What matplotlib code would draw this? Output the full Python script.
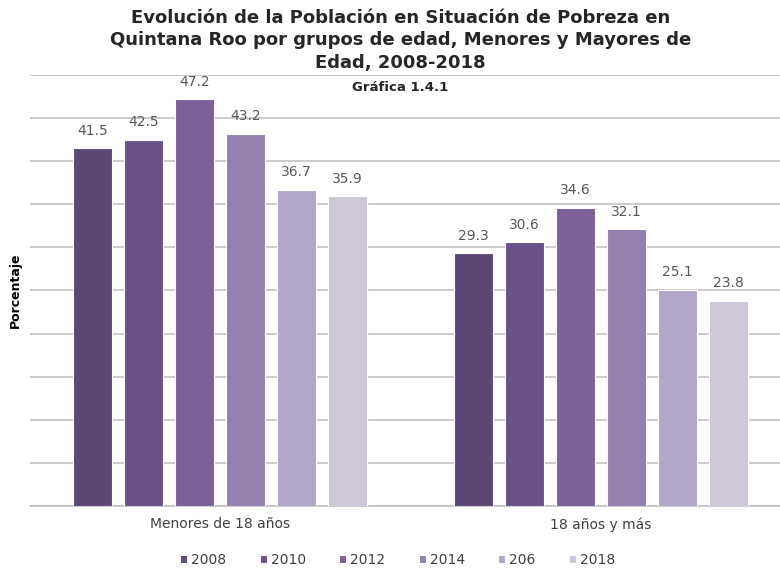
import matplotlib
matplotlib.use('Agg')
import matplotlib.pyplot as plt
import numpy as np

categories = ['Menores de 18 años', '18 años y más']
years = ['2008', '2010', '2012', '2014', '206', '2018']
values = {
    '2008': [41.5, 29.3],
    '2010': [42.5, 30.6],
    '2012': [47.2, 34.6],
    '2014': [43.2, 32.1],
    '206': [36.7, 25.1],
    '2018': [35.9, 23.8],
}
colors = ['#5d4777', '#6a5189', '#7b5f99', '#9480ae', '#b1a6c6', '#cdc7d8']

fig = plt.figure(figsize=(7.8, 5.71), dpi=100)
ax = fig.add_axes([0.038, 0.1138, 0.962, 0.755])

x = np.arange(len(categories))
width = 0.102
step = 0.134
for i, year in enumerate(years):
    pos = x + (i - 2.5) * step
    bars = ax.bar(pos, values[year], width, color=colors[i], edgecolor='white',
                  linewidth=0.8, label=year, zorder=3)
    for b, v in zip(bars, values[year]):
        ax.text(b.get_x() + b.get_width() / 2, v + 1.2, f'{v}', ha='center', va='bottom',
                fontsize=10, color='#595959', zorder=4)

ax.set_xlim(-0.5, 1.47)
ax.set_ylim(0, 50)
ax.set_yticks(np.arange(0, 51, 5))
ax.yaxis.grid(True, color='#bdbdbd', linewidth=1.1, zorder=0)
ax.set_yticklabels([])
ax.tick_params(axis='y', length=0)
ax.tick_params(axis='x', length=0, labelsize=10, labelcolor='#404040', pad=8)
ax.set_xticks(x)
ax.set_xticklabels(categories)
for s in ['top', 'right', 'left']:
    ax.spines[s].set_visible(False)
ax.spines['bottom'].set_color('#bdbdbd')
ax.spines['bottom'].set_linewidth(1.1)

ax.set_ylabel('Porcentaje', fontsize=9, fontweight='bold')
ax.yaxis.set_label_coords(-0.011, 0.5)

fig.text(0.513, 0.985, 'Evolución de la Población en Situación de Pobreza en\n'
         'Quintana Roo por grupos de edad, Menores y Mayores de\nEdad, 2008-2018',
         ha='center', va='top', fontsize=13, fontweight='bold', color='#262626',
         linespacing=1.35)
fig.text(0.513, 0.846, 'Gráfica 1.4.1', ha='center', va='center', fontsize=9.5,
         fontweight='bold', color='#262626')

leg = fig.legend(loc='center', bbox_to_anchor=(0.51, 0.02), ncol=6, frameon=False,
                 fontsize=10, handlelength=0.5, handleheight=0.5, handletextpad=0.3,
                 columnspacing=2.4)
for t in leg.get_texts():
    t.set_color('#404040')

fig.savefig('out.png', dpi=100)
